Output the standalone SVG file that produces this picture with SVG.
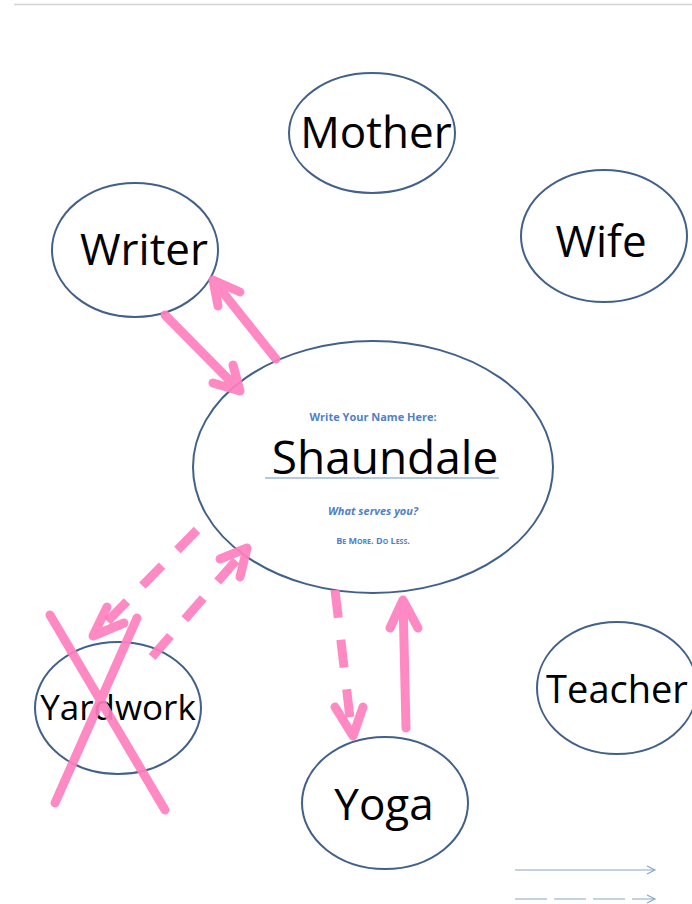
<svg xmlns="http://www.w3.org/2000/svg" width="692" height="904" viewBox="0 0 692 904">
<style>
.node{fill:#fff;stroke:#41608a;stroke-width:2}
.lbl{font-family:"Open Sans","Noto Sans",sans-serif;fill:#000;text-anchor:middle}
.pk{fill:none;stroke:#ff7fbe;stroke-width:9;stroke-linecap:round;stroke-linejoin:round;opacity:0.92}
.dash{stroke-dasharray:28 22;stroke-linecap:butt}
.sm{font-family:"Open Sans","Noto Sans",sans-serif;fill:#4f81c8;font-weight:bold;text-anchor:middle}
.leg{fill:none;stroke:#8aa6cc;stroke-width:1.2}
</style>
<rect width="692" height="904" fill="#fff"/>
<line x1="14" y1="4.5" x2="692" y2="4.5" stroke="#d4d4d4" stroke-width="1.5"/>
<g id="mother"><ellipse class="node" cx="372" cy="133" rx="83" ry="60"/><text class="lbl" x="376" y="148" font-size="44">Mother</text></g>
<g id="writer"><ellipse class="node" cx="135" cy="250" rx="83" ry="67"/><text class="lbl" x="144" y="265" font-size="44">Writer</text></g>
<g id="wife"><ellipse class="node" cx="604" cy="236" rx="83" ry="66"/><text class="lbl" x="601" y="257" font-size="44">Wife</text></g>
<g id="teacher"><ellipse class="node" cx="617" cy="688" rx="80" ry="66"/><text class="lbl" x="617" y="703" font-size="38">Teacher</text></g>
<g id="shaundale"><ellipse class="node" cx="373" cy="467" rx="180" ry="126"/>
<text class="sm" x="373" y="421" font-size="11">Write Your Name Here:</text>
<text class="lbl" x="385" y="474" font-size="46">Shaundale</text>
<line x1="265" y1="478" x2="499" y2="478" stroke="#9bb8d8" stroke-width="1.5"/>
<text class="sm" x="373" y="515" font-size="11" font-style="italic">What serves you?</text>
<text class="sm" x="373" y="544" font-size="9">B<tspan font-size="7">E</tspan> M<tspan font-size="7">ORE</tspan>. D<tspan font-size="7">O</tspan> L<tspan font-size="7">ESS</tspan>.</text>
</g>
<g id="yardwork"><ellipse class="node" cx="118" cy="708" rx="83" ry="66"/><text class="lbl" x="118" y="720" font-size="35">Yardwork</text></g>
<g id="yoga"><ellipse class="node" cx="385" cy="803" rx="83" ry="66"/><text class="lbl" x="384" y="820" font-size="44">Yoga</text></g>
<g id="connectors">
<path class="pk" d="M165 315 L240 391 M233 365 L240 391 L213 383"/>
<path class="pk" d="M276 359 L213 280 M218 306 L213 280 L240 292"/>
<path class="pk dash" d="M197 530 L94 635"/>
<path class="pk" d="M107 607 L93 636 L124 623"/>
<path class="pk dash" d="M152 657 L246 549"/>
<path class="pk" d="M220 559 L247 548 L240 577"/>
<path class="pk dash" d="M335 590 L352 735"/>
<path class="pk" d="M335 707 L353 736 L363 707"/>
<path class="pk" d="M406 728 L403 600 M390 628 L403 600 L418 628"/>
<path class="pk" d="M50 615 L165 810 M137 618 L55 803"/>
</g>
<g id="legend">
<line class="leg" x1="515" y1="870" x2="654" y2="870"/>
<path class="leg" d="M647 866 L655 870 L647 874"/>
<line class="leg" x1="515" y1="899" x2="654" y2="899" stroke-dasharray="32 7"/>
<path class="leg" d="M647 895 L655 899 L647 903"/>
</g>
</svg>
